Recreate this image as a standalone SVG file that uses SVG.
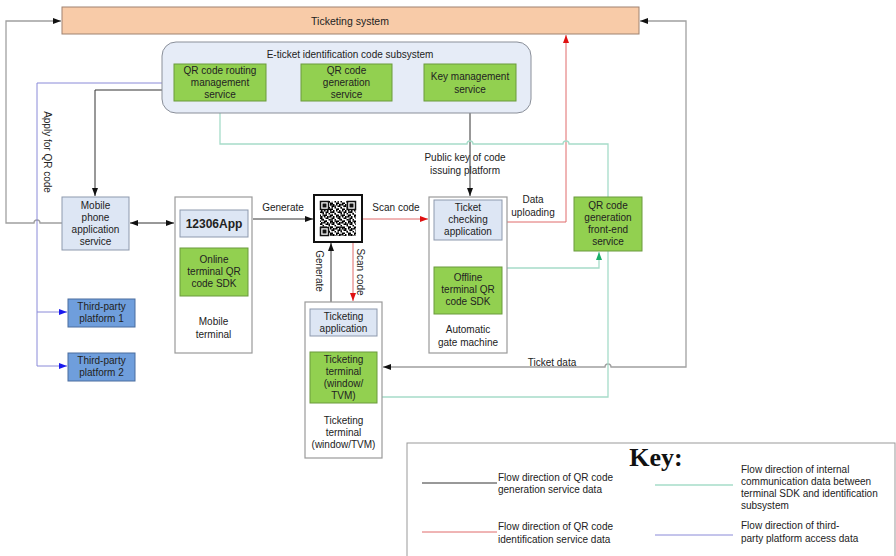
<svg xmlns="http://www.w3.org/2000/svg" width="896" height="556" viewBox="0 0 896 556">
<style>
.t{font-family:"Liberation Sans","Noto Sans",sans-serif;font-size:10px;fill:#222;text-anchor:middle}
.lg{font-family:"Liberation Sans","Noto Sans",sans-serif;font-size:10px;fill:#222}
.g{fill:#92d050;stroke:#6b9a3c;stroke-width:1}
.b{fill:#dde6f4;stroke:#8d99ad;stroke-width:1}
.w{fill:#fff;stroke:#9a9a9a;stroke-width:1.2}
.p{fill:#6f9edc;stroke:#4a6c9e;stroke-width:1}
.ck{fill:none;stroke:#333;stroke-width:1}
.cg{fill:none;stroke:#a0a0a0;stroke-width:1.3}
.cr{fill:none;stroke:#e06a6a;stroke-width:1}
.ct{fill:none;stroke:#a6dcc9;stroke-width:1.3}
.cu{fill:none;stroke:#8a8ad8;stroke-width:1}
</style>
<defs>
<marker id="ak" markerUnits="userSpaceOnUse" markerWidth="8" markerHeight="6" refX="8" refY="3" orient="auto-start-reverse"><path d="M0,0 L8,3 L0,6 z" fill="#111"/></marker>
<marker id="ar" markerUnits="userSpaceOnUse" markerWidth="8" markerHeight="6" refX="8" refY="3" orient="auto-start-reverse"><path d="M0,0 L8,3 L0,6 z" fill="#e01010"/></marker>
<marker id="ag" markerUnits="userSpaceOnUse" markerWidth="8" markerHeight="6" refX="8" refY="3" orient="auto-start-reverse"><path d="M0,0 L8,3 L0,6 z" fill="#1aaf6a"/></marker>
<marker id="au" markerUnits="userSpaceOnUse" markerWidth="8" markerHeight="6" refX="8" refY="3" orient="auto-start-reverse"><path d="M0,0 L8,3 L0,6 z" fill="#1a1aee"/></marker>
<pattern id="q1" width="6" height="6" patternUnits="userSpaceOnUse"><rect x="0" y="0" width="1.5" height="1.5"/><rect x="3" y="0" width="1.5" height="3"/><rect x="1.5" y="1.5" width="1.5" height="1.5"/><rect x="4.5" y="3" width="1.5" height="1.5"/><rect x="0" y="4.5" width="3" height="1.5"/></pattern>
<pattern id="q2" width="9" height="7.5" patternUnits="userSpaceOnUse"><rect x="1.5" y="3" width="1.5" height="1.5"/><rect x="6" y="1.5" width="3" height="1.5"/><rect x="4.5" y="6" width="1.5" height="1.5"/><rect x="7.5" y="4.5" width="1.5" height="1.5"/></pattern>
</defs>

<g id="connectors">
<path class="cg" d="M62,223 H40 A3,3 0 0 0 34,223 H6 V21 H61" marker-end="url(#ak)"/>
<path class="cg" d="M383,367 H605 A3,3 0 0 1 611,367 H686 V21 H640" marker-start="url(#ak)" marker-end="url(#ak)"/>
<path class="cu" d="M174,83 H37 V366 H67" marker-end="url(#au)"/>
<path class="cu" d="M37,312 H67" marker-end="url(#au)"/>
<path class="ck" d="M174,90 H95 V196" marker-end="url(#ak)"/>
<path class="ck" d="M267,82 H300" marker-start="url(#ak)" marker-end="url(#ak)"/>
<path class="ck" d="M393,82 H423" marker-start="url(#ak)" marker-end="url(#ak)"/>
<path class="ck" stroke="#555" d="M470,101 V196" marker-end="url(#ak)"/>
<path class="ck" d="M130,223 H174" marker-start="url(#ak)" marker-end="url(#ak)"/>
<path class="ck" d="M214,237.5 V247.5" marker-start="url(#ak)" marker-end="url(#ak)"/>
<path class="ck" d="M343.5,336.5 V351.5" marker-start="url(#ak)" marker-end="url(#ak)"/>
<path class="ck" d="M253,219 H313" marker-end="url(#ak)"/>
<path class="ck" d="M331,302 V243" marker-end="url(#ak)"/>
<path class="cr" d="M363,219 H428" marker-end="url(#ar)"/>
<path class="cr" d="M353,243 V301" marker-end="url(#ar)"/>
<path class="cr" d="M468,240.5 V266.5" marker-start="url(#ar)" marker-end="url(#ar)"/>
<path class="cr" d="M507,222 H566 V35" marker-end="url(#ar)"/>
<path class="ct" d="M507,268 H599 V252" marker-end="url(#ag)"/>
<path class="ct" d="M382,397 H608 V251"/>
<path class="ct" d="M608,197 V144 H569 A3,3 0 0 0 563,144 H473 A3,3 0 0 0 467,144 H220 V102" marker-end="url(#ag)"/>
</g>

<g id="ticketing-system">
<rect x="62" y="7" width="577" height="27" fill="#f8cba8" stroke="#9f8270" stroke-width="1"/>
<text class="t" x="350" y="24.5" style="font-size:10.5px">Ticketing system</text>
</g>

<g id="subsystem">
<rect x="162" y="42" width="369" height="71" rx="14" fill="#e6ecf7" stroke="#8a8f99" stroke-width="1"/>
<text class="t" x="350" y="57.5">E-ticket identification code subsystem</text>
</g>

<g id="routing">
<rect class="g" x="174" y="64" width="92" height="37"/>
<text class="t" x="220" y="73.5">QR code routing</text>
<text class="t" x="220" y="85.5">management</text>
<text class="t" x="220" y="97.5">service</text>
</g>

<g id="generation">
<rect class="g" x="301" y="64" width="91" height="37"/>
<text class="t" x="346.5" y="73.5">QR code</text>
<text class="t" x="346.5" y="85.5">generation</text>
<text class="t" x="346.5" y="97.5">service</text>
</g>

<g id="key-management">
<rect class="g" x="424" y="64" width="92" height="37"/>
<text class="t" x="470" y="79.5">Key management</text>
<text class="t" x="470" y="92.5">service</text>
</g>

<g id="mobile-app-service">
<rect class="b" x="62" y="197" width="67" height="53"/>
<text class="t" x="95.5" y="208.5">Mobile</text>
<text class="t" x="95.5" y="220.5">phone</text>
<text class="t" x="95.5" y="232.5">application</text>
<text class="t" x="95.5" y="244.5">service</text>
</g>

<g id="mobile-terminal">
<rect class="w" x="175" y="197" width="77" height="156"/>
<rect class="b" x="180" y="210" width="68" height="27"/>
<text class="t" x="214" y="227.5" style="font-size:12px;font-weight:bold">12306App</text>
<rect class="g" x="180" y="248" width="68" height="48"/>
<text class="t" x="214" y="262.5">Online</text>
<text class="t" x="214" y="274.5">terminal QR</text>
<text class="t" x="214" y="286.5">code SDK</text>
<text class="t" x="213.5" y="324.5">Mobile</text>
<text class="t" x="213.5" y="337.5">terminal</text>
</g>

<g id="qr-code">
<rect x="314" y="195" width="48" height="47" fill="#fff" stroke="#111" stroke-width="2"/>
<rect x="320" y="201" width="36" height="35" fill="url(#q1)"/>
<rect x="320" y="201" width="36" height="35" fill="url(#q2)"/>
<rect x="320.5" y="201.5" width="8" height="8" fill="#fff" stroke="#111" stroke-width="1.5"/>
<rect x="322.5" y="203.5" width="4" height="4" fill="#111"/>
<rect x="347.5" y="201.5" width="8" height="8" fill="#fff" stroke="#111" stroke-width="1.5"/>
<rect x="349.5" y="203.5" width="4" height="4" fill="#111"/>
<rect x="320.5" y="227.5" width="8" height="8" fill="#fff" stroke="#111" stroke-width="1.5"/>
<rect x="322.5" y="229.5" width="4" height="4" fill="#111"/>
</g>

<g id="gate-machine">
<rect class="w" x="429" y="197" width="78" height="156"/>
<rect class="b" x="434" y="200" width="68" height="40"/>
<text class="t" x="468" y="211">Ticket</text>
<text class="t" x="468" y="223">checking</text>
<text class="t" x="468" y="235">application</text>
<rect class="g" x="434" y="267" width="68" height="47"/>
<text class="t" x="468" y="281">Offline</text>
<text class="t" x="468" y="293">terminal QR</text>
<text class="t" x="468" y="305">code SDK</text>
<text class="t" x="468" y="332.5">Automatic</text>
<text class="t" x="468" y="345.5">gate machine</text>
</g>

<g id="front-end-service">
<rect class="g" x="574" y="197" width="68" height="54"/>
<text class="t" x="608" y="209">QR code</text>
<text class="t" x="608" y="221">generation</text>
<text class="t" x="608" y="233">front-end</text>
<text class="t" x="608" y="245">service</text>
</g>

<g id="ticketing-terminal">
<rect class="w" x="305" y="302" width="77" height="156"/>
<rect class="b" x="310" y="309" width="67" height="27"/>
<text class="t" x="343.5" y="319.5">Ticketing</text>
<text class="t" x="343.5" y="331.5">application</text>
<rect class="g" x="310" y="352" width="67" height="51"/>
<text class="t" x="343.5" y="363">Ticketing</text>
<text class="t" x="343.5" y="375">terminal</text>
<text class="t" x="343.5" y="387">(window/</text>
<text class="t" x="343.5" y="399">TVM)</text>
<text class="t" x="343.5" y="423.5">Ticketing</text>
<text class="t" x="343.5" y="435.5">terminal</text>
<text class="t" x="343.5" y="448">(window/TVM)</text>
</g>

<g id="third-party-1">
<rect class="p" x="68" y="299" width="67" height="28"/>
<text class="t" x="101.5" y="310">Third-party</text>
<text class="t" x="101.5" y="322">platform 1</text>
</g>

<g id="third-party-2">
<rect class="p" x="68" y="353" width="67" height="28"/>
<text class="t" x="101.5" y="364">Third-party</text>
<text class="t" x="101.5" y="376">platform 2</text>
</g>

<g id="labels">
<text class="t" transform="translate(47,152) rotate(90)" y="3.5">Apply for QR code</text>
<text class="t" x="283" y="210.5">Generate</text>
<text class="t" x="396" y="210.5">Scan code</text>
<text class="t" transform="translate(319,271) rotate(90)" y="3.5">Generate</text>
<text class="t" transform="translate(360,272) rotate(90)" y="3.5">Scan code</text>
<text class="t" x="465" y="160.5">Public key of code</text>
<text class="t" x="465" y="173.5">issuing platform</text>
<text class="t" x="533" y="202.5">Data</text>
<text class="t" x="533" y="215.5">uploading</text>
<text class="t" x="552" y="365.5">Ticket data</text>
</g>

<g id="key">
<rect x="407" y="443" width="488" height="120" fill="#fff" stroke="#999" stroke-width="1"/>
<text x="656" y="466" style="font-family:'Liberation Serif',serif;font-size:26px;font-weight:bold;text-anchor:middle;fill:#111">Key:</text>
<path d="M422,483 H497" stroke="#333" stroke-width="1"/>
<path d="M655,485 H733" stroke="#a6dcc9" stroke-width="1.3"/>
<path d="M422,532 H497" stroke="#e06a6a" stroke-width="1"/>
<path d="M655,535 H733" stroke="#8a8ad8" stroke-width="1"/>
<text class="lg" x="498" y="480.5">Flow direction of QR code</text>
<text class="lg" x="498" y="493">generation service data</text>
<text class="lg" x="741" y="472.5">Flow direction of internal</text>
<text class="lg" x="741" y="485">communication data between</text>
<text class="lg" x="741" y="497">terminal SDK and identification</text>
<text class="lg" x="741" y="509">subsystem</text>
<text class="lg" x="498" y="529.5">Flow direction of QR code</text>
<text class="lg" x="498" y="542.5">identification service data</text>
<text class="lg" x="741" y="529">Flow direction of third-</text>
<text class="lg" x="741" y="542">party platform access data</text>
</g>
</svg>
